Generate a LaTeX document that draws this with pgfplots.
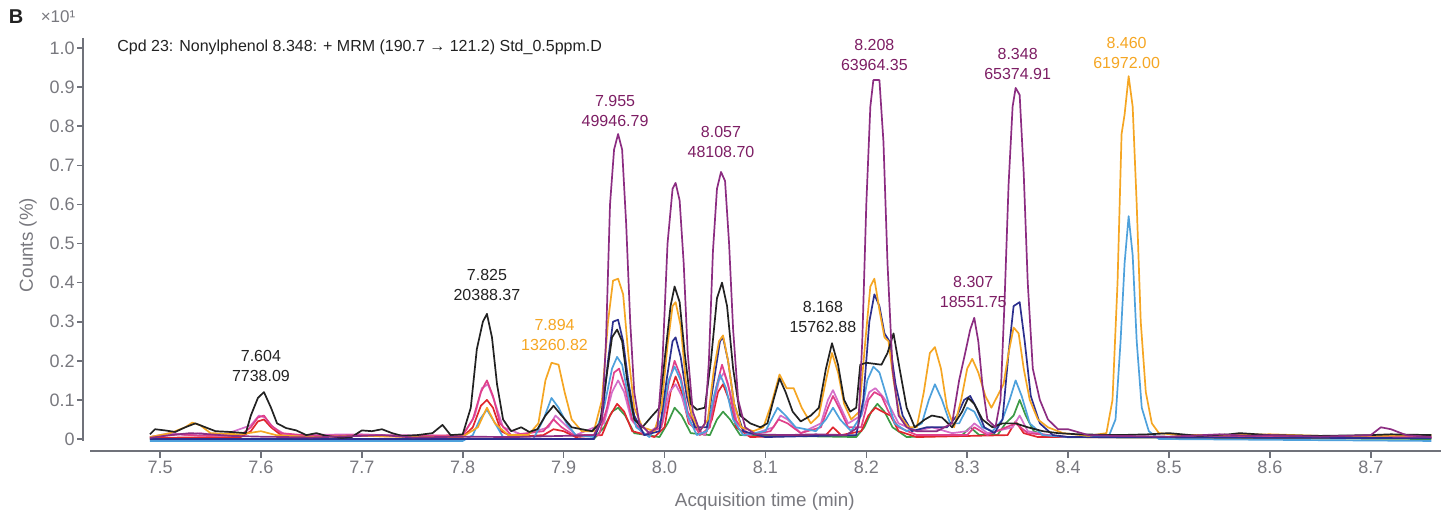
\documentclass[border=0pt]{standalone}
\usepackage{pgfplots}
\pgfplotsset{compat=1.18}
\usepackage{fontspec}
\setmainfont{Liberation Sans}
\definecolor{axgray}{RGB}{112,114,122}
\definecolor{txtgray}{RGB}{120,120,126}
\definecolor{cpur}{RGB}{140,45,130}
\definecolor{tpur}{RGB}{125,30,100}
\definecolor{cblk}{RGB}{34,34,34}
\definecolor{corg}{RGB}{245,166,35}
\definecolor{clb}{RGB}{78,161,220}
\definecolor{cnav}{RGB}{44,47,142}
\definecolor{cmag}{RGB}{224,64,138}
\definecolor{cred}{RGB}{224,38,46}
\definecolor{cgrn}{RGB}{60,154,70}
\definecolor{corc}{RGB}{212,111,201}
\begin{document}
\begin{tikzpicture}
\useasboundingbox (-45pt,-32pt) rectangle (676.5pt,225.5pt);
\begin{axis}[
  at={(0,0)}, anchor=south west, scale only axis,
  width=675.5pt, height=206.5pt,
  xmin=7.4306, xmax=8.7696, ymin=-0.03069, ymax=1.02558,
  axis line style={draw=none},
  major tick length=0pt,
  xtick={7.5,7.6,7.7,7.8,7.9,8.0,8.1,8.2,8.3,8.4,8.5,8.6,8.7},
  xticklabels={7.5,7.6,7.7,7.8,7.9,8.0,8.1,8.2,8.3,8.4,8.5,8.6,8.7},
  ytick={0,0.1,0.2,0.3,0.4,0.5,0.6,0.7,0.8,0.9,1.0},
  yticklabels={0,0.1,0.2,0.3,0.4,0.5,0.6,0.7,0.8,0.9,1.0},
  tick label style={font=\fontsize{9}{10}\selectfont, text=txtgray},
  yticklabel style={inner sep=0pt, xshift=-7.5pt, anchor=east},
  xticklabel style={inner sep=0pt, yshift=-5pt, anchor=north},
  /pgf/number format/assume math mode=true,
  xlabel={Acquisition time (min)},
  ylabel={Counts (\%)},
  xlabel style={at={(axis description cs:0.4995,0)}, anchor=center, yshift=-25.5pt, font=\fontsize{9.4}{11}\selectfont, text=txtgray},
  ylabel style={at={(axis description cs:-0.0459,0.4988)}, anchor=center, font=\fontsize{9.4}{11}\selectfont, text=txtgray},
  clip=false,
  every axis plot/.append style={line width=0.85pt, line join=round, mark=none},
]
% green
\addplot[cgrn] coordinates {(7.490,0.000)(7.930,0.000)(7.940,0.030)(7.948,0.070)(7.954,0.080)(7.961,0.060)(7.970,0.015)(7.995,0.005)(8.003,0.040)(8.010,0.080)(8.017,0.060)(8.026,0.015)(8.045,0.010)(8.052,0.050)(8.058,0.070)(8.065,0.050)(8.075,0.010)(8.190,0.005)(8.198,0.030)(8.205,0.070)(8.211,0.090)(8.218,0.070)(8.226,0.030)(8.240,0.005)(8.295,0.010)(8.303,0.030)(8.312,0.010)(8.330,0.010)(8.338,0.040)(8.346,0.060)(8.352,0.100)(8.358,0.060)(8.366,0.020)(8.380,0.005)(8.760,0.000)};
% red
\addplot[cred] coordinates {(7.490,0.003)(7.580,0.005)(7.590,0.020)(7.597,0.045)(7.603,0.050)(7.610,0.030)(7.620,0.010)(7.800,0.005)(7.810,0.030)(7.818,0.085)(7.824,0.100)(7.830,0.080)(7.838,0.020)(7.850,0.005)(7.880,0.010)(7.890,0.025)(7.900,0.020)(7.912,0.005)(7.938,0.010)(7.946,0.060)(7.953,0.090)(7.960,0.070)(7.968,0.020)(7.990,0.005)(8.000,0.030)(8.006,0.120)(8.011,0.160)(8.017,0.120)(8.024,0.040)(8.040,0.010)(8.047,0.050)(8.053,0.120)(8.058,0.140)(8.064,0.100)(8.071,0.030)(8.085,0.005)(8.160,0.010)(8.167,0.030)(8.175,0.010)(8.195,0.020)(8.202,0.060)(8.209,0.080)(8.216,0.070)(8.224,0.060)(8.232,0.020)(8.250,0.005)(8.340,0.010)(8.348,0.045)(8.356,0.015)(8.370,0.005)(8.760,0.003)};
% orchid
\addplot[corc] coordinates {(7.490,0.005)(7.510,0.015)(7.525,0.010)(7.540,0.015)(7.560,0.008)(7.590,0.035)(7.598,0.060)(7.604,0.055)(7.612,0.030)(7.625,0.010)(7.700,0.012)(7.720,0.010)(7.800,0.008)(7.812,0.060)(7.819,0.130)(7.825,0.140)(7.831,0.100)(7.840,0.030)(7.860,0.010)(7.885,0.030)(7.892,0.060)(7.900,0.040)(7.912,0.010)(7.940,0.040)(7.948,0.120)(7.954,0.150)(7.960,0.120)(7.967,0.050)(7.980,0.010)(7.998,0.040)(8.005,0.120)(8.011,0.140)(8.017,0.110)(8.025,0.040)(8.040,0.010)(8.048,0.080)(8.054,0.150)(8.059,0.170)(8.065,0.120)(8.072,0.040)(8.085,0.010)(8.108,0.030)(8.115,0.060)(8.122,0.050)(8.135,0.015)(8.155,0.040)(8.162,0.100)(8.167,0.125)(8.173,0.090)(8.182,0.040)(8.195,0.060)(8.203,0.120)(8.209,0.130)(8.216,0.110)(8.224,0.080)(8.232,0.040)(8.250,0.020)(8.265,0.030)(8.285,0.015)(8.300,0.020)(8.307,0.040)(8.320,0.015)(8.345,0.030)(8.352,0.060)(8.360,0.020)(8.380,0.010)(8.400,0.005)(8.760,0.005)};
% magenta
\addplot[cmag] coordinates {(7.490,0.005)(7.520,0.012)(7.540,0.008)(7.580,0.010)(7.590,0.030)(7.597,0.055)(7.603,0.060)(7.610,0.035)(7.620,0.015)(7.650,0.008)(7.700,0.010)(7.750,0.008)(7.800,0.010)(7.810,0.050)(7.818,0.120)(7.824,0.150)(7.830,0.110)(7.837,0.040)(7.848,0.010)(7.880,0.020)(7.890,0.050)(7.898,0.030)(7.910,0.010)(7.935,0.010)(7.943,0.080)(7.950,0.170)(7.955,0.180)(7.961,0.130)(7.968,0.050)(7.980,0.010)(7.997,0.030)(8.004,0.140)(8.010,0.200)(8.016,0.160)(8.023,0.070)(8.035,0.010)(8.045,0.030)(8.051,0.130)(8.057,0.190)(8.063,0.140)(8.070,0.050)(8.082,0.010)(8.105,0.020)(8.113,0.050)(8.122,0.040)(8.135,0.015)(8.155,0.030)(8.162,0.080)(8.167,0.110)(8.173,0.080)(8.182,0.030)(8.195,0.030)(8.202,0.100)(8.208,0.120)(8.215,0.110)(8.222,0.070)(8.232,0.030)(8.250,0.010)(8.300,0.010)(8.307,0.030)(8.320,0.010)(8.348,0.040)(8.360,0.015)(8.400,0.005)(8.760,0.005)};
% light blue
\addplot[clb] coordinates {(7.490,-0.005)(7.800,-0.005)(7.810,0.010)(7.817,0.050)(7.824,0.075)(7.831,0.045)(7.840,0.005)(7.870,0.000)(7.880,0.050)(7.888,0.105)(7.895,0.080)(7.903,0.040)(7.912,0.010)(7.930,0.005)(7.940,0.080)(7.948,0.180)(7.953,0.210)(7.958,0.190)(7.964,0.110)(7.972,0.030)(7.985,0.005)(7.997,0.050)(8.004,0.150)(8.010,0.185)(8.016,0.150)(8.023,0.060)(8.032,0.010)(8.042,0.020)(8.049,0.110)(8.055,0.165)(8.061,0.130)(8.068,0.050)(8.078,0.010)(8.100,0.020)(8.112,0.080)(8.120,0.060)(8.130,0.030)(8.150,0.020)(8.160,0.050)(8.167,0.080)(8.174,0.050)(8.185,0.020)(8.195,0.060)(8.201,0.150)(8.207,0.185)(8.213,0.170)(8.220,0.110)(8.228,0.040)(8.240,0.020)(8.255,0.040)(8.262,0.100)(8.268,0.140)(8.275,0.100)(8.283,0.040)(8.292,0.040)(8.300,0.080)(8.307,0.070)(8.315,0.030)(8.325,0.020)(8.335,0.050)(8.342,0.100)(8.348,0.150)(8.354,0.110)(8.362,0.040)(8.375,0.010)(8.400,0.005)(8.440,0.005)(8.447,0.050)(8.452,0.250)(8.456,0.450)(8.460,0.570)(8.464,0.470)(8.468,0.250)(8.473,0.080)(8.480,0.020)(8.490,0.000)(8.760,-0.005)};
% navy
\addplot[cnav] coordinates {(7.490,0.000)(7.930,0.000)(7.938,0.050)(7.944,0.200)(7.949,0.300)(7.954,0.305)(7.959,0.250)(7.964,0.150)(7.970,0.060)(7.980,0.010)(7.995,0.020)(8.002,0.150)(8.008,0.250)(8.011,0.260)(8.016,0.210)(8.022,0.110)(8.030,0.030)(8.042,0.030)(8.049,0.150)(8.055,0.250)(8.058,0.260)(8.063,0.200)(8.069,0.090)(8.078,0.020)(8.100,0.005)(8.190,0.010)(8.197,0.100)(8.203,0.300)(8.208,0.370)(8.213,0.340)(8.218,0.270)(8.223,0.250)(8.229,0.140)(8.236,0.060)(8.245,0.020)(8.260,0.030)(8.280,0.030)(8.290,0.060)(8.297,0.100)(8.303,0.110)(8.309,0.080)(8.317,0.030)(8.327,0.015)(8.335,0.050)(8.341,0.220)(8.346,0.340)(8.352,0.350)(8.357,0.250)(8.363,0.110)(8.372,0.040)(8.385,0.010)(8.400,0.005)(8.760,0.002)};
% orange
\addplot[corg] coordinates {(7.490,0.005)(7.510,0.015)(7.525,0.030)(7.532,0.042)(7.540,0.035)(7.550,0.015)(7.580,0.012)(7.600,0.020)(7.615,0.010)(7.650,0.005)(7.700,0.008)(7.750,0.005)(7.800,0.006)(7.815,0.030)(7.824,0.080)(7.832,0.040)(7.845,0.010)(7.865,0.010)(7.875,0.040)(7.882,0.150)(7.888,0.195)(7.895,0.190)(7.901,0.120)(7.908,0.050)(7.918,0.020)(7.930,0.020)(7.938,0.100)(7.944,0.300)(7.949,0.405)(7.954,0.410)(7.959,0.370)(7.964,0.220)(7.970,0.080)(7.978,0.030)(7.990,0.020)(7.997,0.080)(8.003,0.240)(8.008,0.340)(8.011,0.350)(8.016,0.290)(8.021,0.150)(8.027,0.060)(8.035,0.020)(8.043,0.050)(8.049,0.180)(8.054,0.250)(8.058,0.265)(8.063,0.200)(8.069,0.090)(8.076,0.030)(8.088,0.020)(8.098,0.030)(8.106,0.090)(8.114,0.165)(8.121,0.130)(8.128,0.130)(8.136,0.080)(8.145,0.040)(8.153,0.060)(8.160,0.150)(8.166,0.220)(8.172,0.170)(8.178,0.090)(8.185,0.050)(8.193,0.070)(8.199,0.250)(8.204,0.390)(8.208,0.410)(8.213,0.330)(8.218,0.260)(8.222,0.250)(8.227,0.150)(8.233,0.060)(8.242,0.030)(8.250,0.030)(8.257,0.120)(8.263,0.220)(8.268,0.235)(8.274,0.180)(8.280,0.080)(8.287,0.030)(8.294,0.100)(8.300,0.180)(8.305,0.205)(8.311,0.170)(8.318,0.110)(8.324,0.080)(8.330,0.110)(8.336,0.140)(8.341,0.220)(8.346,0.285)(8.351,0.270)(8.356,0.180)(8.362,0.100)(8.370,0.050)(8.380,0.030)(8.395,0.015)(8.420,0.008)(8.438,0.015)(8.444,0.100)(8.449,0.400)(8.453,0.780)(8.456,0.830)(8.460,0.928)(8.464,0.850)(8.468,0.600)(8.472,0.300)(8.477,0.120)(8.483,0.040)(8.490,0.015)(8.510,0.010)(8.550,0.010)(8.600,0.012)(8.650,0.008)(8.700,0.008)(8.760,0.010)};
% black
\addplot[cblk] coordinates {(7.490,0.012)(7.495,0.025)(7.505,0.022)(7.515,0.018)(7.525,0.030)(7.535,0.040)(7.545,0.030)(7.555,0.020)(7.570,0.018)(7.585,0.015)(7.590,0.060)(7.597,0.105)(7.603,0.120)(7.610,0.080)(7.616,0.040)(7.625,0.028)(7.635,0.022)(7.645,0.010)(7.655,0.015)(7.665,0.008)(7.680,0.003)(7.690,0.005)(7.700,0.022)(7.710,0.020)(7.720,0.025)(7.730,0.015)(7.740,0.008)(7.755,0.010)(7.770,0.015)(7.780,0.036)(7.788,0.010)(7.800,0.012)(7.808,0.080)(7.814,0.230)(7.820,0.300)(7.824,0.320)(7.829,0.260)(7.834,0.140)(7.840,0.050)(7.848,0.020)(7.858,0.030)(7.866,0.018)(7.874,0.025)(7.882,0.060)(7.890,0.085)(7.898,0.060)(7.908,0.030)(7.918,0.025)(7.928,0.020)(7.936,0.040)(7.942,0.150)(7.948,0.260)(7.953,0.280)(7.958,0.250)(7.963,0.150)(7.970,0.050)(7.978,0.030)(7.988,0.060)(7.995,0.080)(8.000,0.200)(8.006,0.340)(8.010,0.390)(8.015,0.350)(8.020,0.220)(8.026,0.090)(8.032,0.075)(8.040,0.080)(8.046,0.200)(8.052,0.360)(8.057,0.400)(8.062,0.340)(8.068,0.180)(8.075,0.060)(8.085,0.040)(8.095,0.030)(8.102,0.040)(8.108,0.100)(8.114,0.155)(8.120,0.120)(8.127,0.070)(8.135,0.045)(8.145,0.060)(8.153,0.080)(8.160,0.180)(8.166,0.245)(8.172,0.190)(8.178,0.100)(8.184,0.070)(8.190,0.080)(8.194,0.190)(8.200,0.195)(8.215,0.190)(8.221,0.220)(8.227,0.270)(8.233,0.180)(8.240,0.080)(8.248,0.030)(8.258,0.050)(8.265,0.060)(8.275,0.055)(8.285,0.030)(8.295,0.070)(8.301,0.105)(8.307,0.090)(8.315,0.050)(8.325,0.030)(8.335,0.040)(8.348,0.040)(8.360,0.030)(8.375,0.020)(8.390,0.015)(8.410,0.012)(8.450,0.010)(8.480,0.012)(8.500,0.015)(8.530,0.008)(8.560,0.012)(8.570,0.015)(8.600,0.010)(8.650,0.008)(8.700,0.010)(8.720,0.012)(8.760,0.010)};
% purple
\addplot[cpur] coordinates {(7.490,0.003)(7.510,0.010)(7.530,0.015)(7.550,0.012)(7.570,0.008)(7.600,0.006)(7.650,0.004)(7.700,0.008)(7.720,0.010)(7.750,0.004)(7.800,0.006)(7.850,0.005)(7.900,0.008)(7.930,0.010)(7.938,0.05)(7.942,0.25)(7.946,0.60)(7.950,0.74)(7.954,0.78)(7.958,0.74)(7.962,0.55)(7.966,0.30)(7.970,0.12)(7.975,0.04)(7.985,0.015)(7.993,0.03)(7.998,0.20)(8.003,0.50)(8.008,0.64)(8.011,0.655)(8.015,0.61)(8.019,0.45)(8.023,0.22)(8.028,0.07)(8.035,0.02)(8.040,0.04)(8.044,0.20)(8.048,0.48)(8.052,0.64)(8.056,0.683)(8.060,0.66)(8.064,0.50)(8.068,0.28)(8.073,0.10)(8.080,0.03)(8.090,0.012)(8.120,0.010)(8.150,0.012)(8.180,0.010)(8.192,0.03)(8.196,0.25)(8.200,0.60)(8.204,0.85)(8.207,0.918)(8.213,0.918)(8.217,0.76)(8.221,0.45)(8.226,0.18)(8.232,0.06)(8.240,0.03)(8.250,0.02)(8.270,0.02)(8.285,0.04)(8.292,0.15)(8.298,0.22)(8.303,0.28)(8.307,0.31)(8.311,0.25)(8.315,0.14)(8.320,0.05)(8.328,0.03)(8.333,0.10)(8.337,0.35)(8.341,0.65)(8.345,0.85)(8.348,0.898)(8.352,0.88)(8.356,0.68)(8.360,0.40)(8.365,0.18)(8.372,0.10)(8.380,0.05)(8.390,0.025)(8.400,0.025)(8.420,0.010)(8.450,0.008)(8.500,0.006)(8.550,0.012)(8.580,0.008)(8.600,0.010)(8.650,0.006)(8.700,0.010)(8.710,0.030)(8.720,0.025)(8.735,0.010)(8.760,0.005)};
% annotations
\begin{scope}[every node/.style={align=center, font=\fontsize{8}{10}\selectfont, inner sep=0pt}]
\node[text=cblk] at (axis cs:7.600,0.187) {7.604\\7738.09};
\node[text=cblk] at (axis cs:7.824,0.394) {7.825\\20388.37};
\node[text=corg] at (axis cs:7.891,0.266) {7.894\\13260.82};
\node[text=tpur] at (axis cs:7.951,0.839) {7.955\\49946.79};
\node[text=tpur] at (axis cs:8.056,0.760) {8.057\\48108.70};
\node[text=cblk] at (axis cs:8.157,0.312) {8.168\\15762.88};
\node[text=tpur] at (axis cs:8.208,0.982) {8.208\\63964.35};
\node[text=tpur] at (axis cs:8.306,0.376) {8.307\\18551.75};
\node[text=tpur] at (axis cs:8.350,0.959) {8.348\\65374.91};
\node[text=corg] at (axis cs:8.458,0.987) {8.460\\61972.00};
\end{scope}
\end{axis}
% axis lines and ticks
\draw[axgray, line width=0.8pt] (-3.5pt,206.5pt) -- (-3.5pt,5pt);
\draw[axgray, line width=0.8pt] (0pt,0pt) -- (675.5pt,0pt);
\foreach \v in {0,0.1,0.2,0.3,0.4,0.5,0.6,0.7,0.8,0.9,1.0}
  \draw[axgray, line width=0.8pt] (-6.5pt,{(6+195.5*\v)*1pt}) -- (-3.5pt,{(6+195.5*\v)*1pt});
\foreach \t in {7.5,7.6,7.7,7.8,7.9,8.0,8.1,8.2,8.3,8.4,8.5,8.6,8.7}
  \draw[axgray, line width=0.8pt] ({(\t-7.4306)*504.5*1pt},0pt) -- ({(\t-7.4306)*504.5*1pt},-3.5pt);
\node[anchor=west, inner sep=0pt, font=\fontsize{8}{10}\selectfont, text=cblk] at (13.5pt,202pt) {Cpd 23: Nonylphenol 8.348: + MRM (190.7 → 121.2) Std\_0.5ppm.D};
\node[inner sep=0pt, font=\bfseries\fontsize{10}{12}\selectfont, text=cblk] at (-37pt,217pt) {B};
\node[inner sep=0pt, font=\fontsize{8.5}{10}\selectfont, text=txtgray] at (-16pt,217pt) {×10¹};
\end{tikzpicture}
\end{document}
